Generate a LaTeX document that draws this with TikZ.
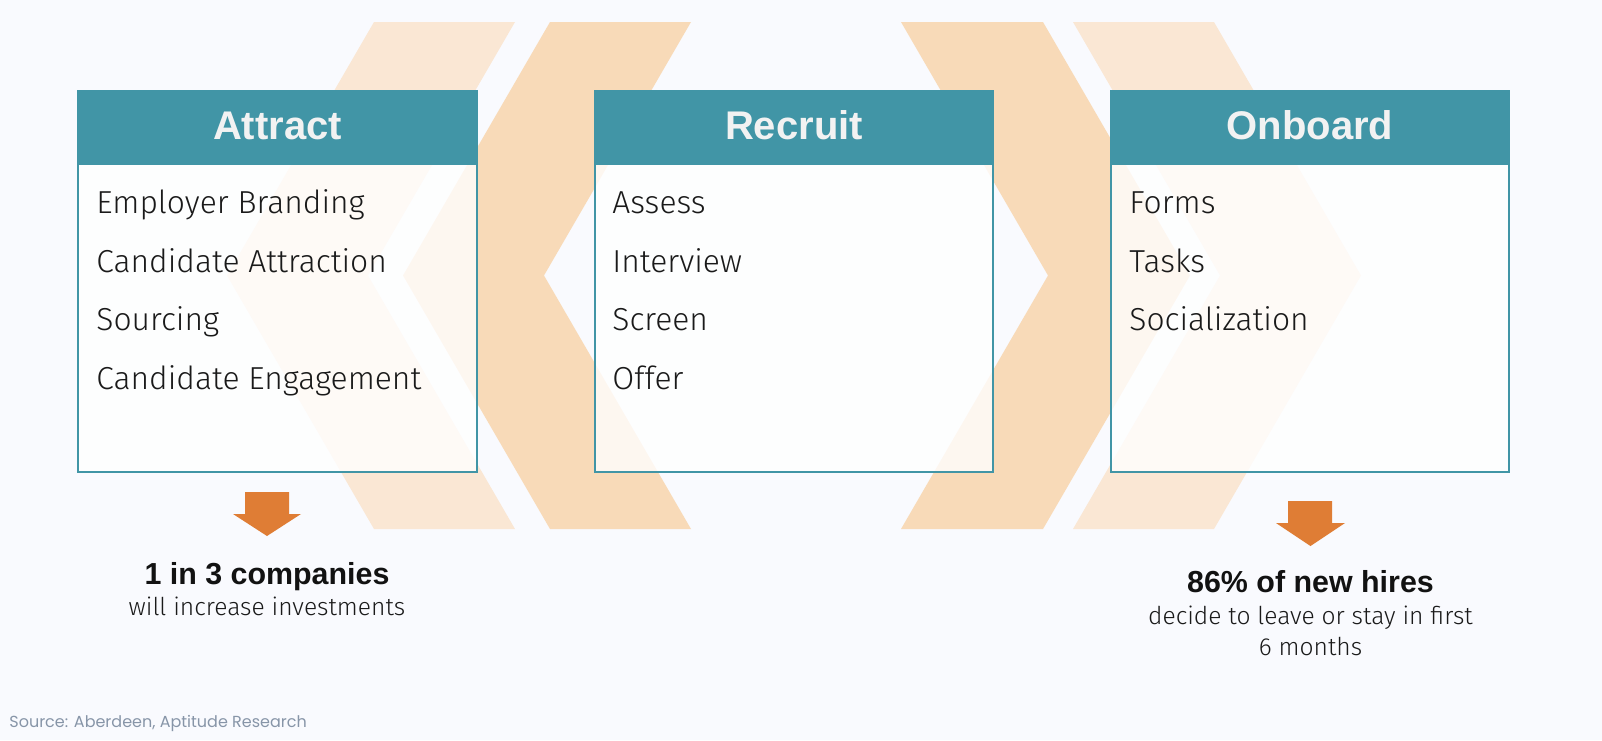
\documentclass[tikz,border=0pt]{standalone}
\usepackage{fontspec}
\setmainfont{Liberation Sans}
\newfontfamily\bodyfont{Fira Sans Light}
\newfontfamily\srcfont{Poppins}
\definecolor{bgcol}{HTML}{F9FAFE}
\definecolor{teal}{HTML}{4195A6}
\definecolor{chevlight}{HTML}{FAE7D4}
\definecolor{chevdark}{HTML}{F8DAB8}
\definecolor{arrowcol}{HTML}{DF7D35}
\definecolor{hdrtext}{HTML}{F2F2F2}
\definecolor{bodytext}{HTML}{1A1A1A}
\definecolor{srccol}{HTML}{8795A8}
\tikzset{
  boxbody/.style={fill=white, fill opacity=0.8, draw=teal, draw opacity=1, line width=1pt},
  hdr/.style={fill=teal},
  hdrlabel/.style={anchor=base, text=hdrtext, font=\fontsize{20}{24}\selectfont\bfseries, inner sep=0pt},
  item/.style={anchor=base west, text=bodytext, font=\bodyfont\fontsize{15.9}{18}\selectfont, inner sep=0pt},
  statbold/.style={anchor=base, text=black!93, font=\fontsize{15.2}{18}\selectfont\bfseries, inner sep=0pt},
  statsub/.style={anchor=base, text=bodytext, font=\bodyfont\fontsize{12.3}{14}\selectfont, inner sep=0pt},
  blockarrow/.style={fill=arrowcol},
}
\begin{document}
\begin{tikzpicture}[x=0.5pt,y=-0.5pt]
\useasboundingbox (0,0) rectangle (1602,740);
\fill[bgcol] (0,0) rectangle (1602,740);
% chevrons
\fill[chevlight] (374,22) -- (515,22) -- (368,275.5) -- (515,529) -- (374,529) -- (227,275.5) -- cycle;
\fill[chevdark] (550,22) -- (691,22) -- (544,275.5) -- (691,529) -- (550,529) -- (403,275.5) -- cycle;
\fill[chevdark] (901,22) -- (1043,22) -- (1190,275.5) -- (1043,529) -- (901,529) -- (1048,275.5) -- cycle;
\fill[chevlight] (1073,22) -- (1214,22) -- (1361,275.5) -- (1214,529) -- (1073,529) -- (1220,275.5) -- cycle;
% boxes
\draw[boxbody] (78,91) rectangle (477,472);
\fill[hdr] (78,91) rectangle (477,165);
\draw[boxbody] (595,91) rectangle (993,472);
\fill[hdr] (595,91) rectangle (993,165);
\draw[boxbody] (1111,91) rectangle (1509,472);
\fill[hdr] (1111,91) rectangle (1509,165);
% headers
\node[hdrlabel] (hA) at (277.5,139) {Attract};
\node[hdrlabel] (hR) at (794,139) {Recruit};
\node[hdrlabel] (hO) at (1310,139) {Onboard};
% items
\node[item] (a1) at (96,213) {Employer Branding};
\node[item] (a2) at (96,272) {Candidate Attraction};
\node[item] (a3) at (96,330) {Sourcing};
\node[item] (a4) at (96,389) {Candidate Engagement};
\node[item] (r1) at (612,213) {Assess};
\node[item] (r2) at (612,272) {Interview};
\node[item] (r3) at (612,330) {Screen};
\node[item] (r4) at (612,389) {Offer};
\node[item] (o1) at (1129,213) {Forms};
\node[item] (o2) at (1129,272) {Tasks};
\node[item] (o3) at (1129,330) {Socialization};
% arrows
\fill[blockarrow] (245,492) -- (289,492) -- (289,514) -- (301,514) -- (267,536) -- (233,514) -- (245,514) -- cycle;
\fill[blockarrow] (1288,501) -- (1332,501) -- (1332,523) -- (1345,523) -- (1310.5,546) -- (1276,523) -- (1288,523) -- cycle;
% stats
\node[statbold] (s1) at (267,584) {1 in 3 companies};
\node[statsub] (s1b) at (267,615) {will increase investments};
\node[statbold] (s2) at (1310.5,592) {86\% of new hires};
\node[statsub] (s2b) at (1310.5,624) {decide to leave or stay in first};
\node[statsub] (s2c) at (1310.5,655) {6 months};
% source
\node[anchor=base west, text=srccol, font=\srcfont\fontsize{8}{10}\selectfont, inner sep=0pt] (src) at (9,727) {Source: Aberdeen, Aptitude Research};
\end{tikzpicture}
\end{document}
